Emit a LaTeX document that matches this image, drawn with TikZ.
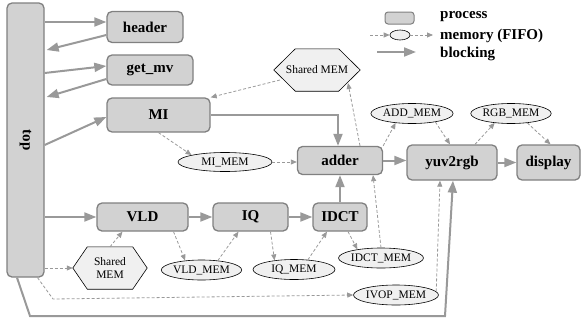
\documentclass[tikz,border=0pt]{standalone}
\usepackage{fontspec}
\setmainfont{Liberation Serif}
\usepackage{tikz}
\usetikzlibrary{arrows.meta,shapes.geometric,backgrounds}
\tikzset{
  proc/.style={draw=gray, fill=gray!35, rounded corners=5pt, line width=1.3pt, inner sep=0pt,
    font=\fontsize{15}{15}\selectfont\bfseries},
  fifo/.style={draw, ellipse, fill=gray!12, line width=0.6pt, inner sep=0pt,
    font=\fontsize{11.5}{11.5}\selectfont},
  shmem/.style={inner sep=0pt, font=\fontsize{11.5}{12.5}\selectfont, align=center},
  hexa/.style={draw, fill=gray!12, line width=0.6pt},
  block/.style={draw=gray!80, line width=2pt, -{Triangle[length=12pt,width=9pt]}},
  mem/.style={draw=gray!80, line width=0.8pt, dash pattern=on 3pt off 2pt, -{Triangle[length=6pt,width=5pt]}},
  legtext/.style={anchor=west, inner sep=0pt, font=\fontsize{15}{15}\selectfont\bfseries}
}
% hexagon round a node: \hexround{node}{slant}
\newcommand{\hexround}[2]{%
  \draw[hexa] ([xshift=#2]#1.north west) -- ([xshift=-#2]#1.north east) -- (#1.east)
     -- ([xshift=-#2]#1.south east) -- ([xshift=#2]#1.south west) -- (#1.west) -- cycle;}
\begin{document}
\begin{tikzpicture}[x=1pt,y=-1pt]
   \useasboundingbox (0,0) rectangle (585,324);

   % processes
   \node[proc, minimum width=37pt, minimum height=274pt] (top) at (25.5,140) {};
   \node[rotate=-90, font=\fontsize{15}{15}\selectfont\bfseries] (toplabel) at (top.center) {top};
   \node[proc, minimum width=76pt, minimum height=31pt] (header) at (145,27) {header};
   \node[proc, minimum width=86pt, minimum height=30pt] (getmv) at (150,70) {get\_mv};
   \node[proc, minimum width=103pt, minimum height=34pt] (mi) at (158.5,115) {MI};
   \node[proc, minimum width=85pt, minimum height=28pt] (adder) at (340,160.5) {adder};
   \node[proc, minimum width=90pt, minimum height=35pt] (yuv) at (452,162.5) {yuv2rgb};
   \node[proc, minimum width=63pt, minimum height=35pt] (display) at (548.5,162.5) {display};
   \node[proc, minimum width=91pt, minimum height=28pt] (vld) at (142.5,217) {VLD};
   \node[proc, minimum width=75pt, minimum height=28pt] (iq) at (250.5,217) {IQ};
   \node[proc, minimum width=54pt, minimum height=28pt] (idct) at (340,217) {IDCT};

   % memories
   \node[shmem, minimum width=86pt, minimum height=42pt] (shmemA) at (317,70) {Shared MEM};
   \node[shmem, minimum width=74pt, minimum height=42pt] (shmemB) at (110,268) {Shared\\MEM};
   \begin{scope}[on background layer]
     \hexround{shmemA}{21.5pt}
     \hexround{shmemB}{14.5pt}
   \end{scope}
   \node[fifo, minimum width=94pt, minimum height=19pt] (mimem) at (225,162) {MI\_MEM};
   \node[fifo, minimum width=78pt, minimum height=20pt] (addmem) at (412,113.5) {ADD\_MEM};
   \node[fifo, minimum width=78pt, minimum height=20pt] (rgbmem) at (511,113.5) {RGB\_MEM};
   \node[fifo, minimum width=77pt, minimum height=20pt] (vldmem) at (201.5,270) {VLD\_MEM};
   \node[fifo, minimum width=82pt, minimum height=20pt] (iqmem) at (294,269.5) {IQ\_MEM};
   \node[fifo, minimum width=78pt, minimum height=20pt] (idctmem) at (381,258) {IDCT\_MEM};
   \node[fifo, minimum width=82pt, minimum height=20pt] (ivopmem) at (396,295) {IVOP\_MEM};

   % legend
   \node[proc, rounded corners=3pt, line width=1pt, minimum width=29pt, minimum height=12pt] (legproc) at (399.5,18) {};
   \node[fifo, minimum width=20pt, minimum height=10pt] (legfifo) at (400,35) {};
   \coordinate (legA) at (370,35);
   \coordinate (legB) at (433,35);
   \coordinate (legC) at (377,52);
   \coordinate (legD) at (416,52);
   \draw[mem] (legA) -- (legfifo.west);
   \draw[mem] (legfifo.east) -- (legB);
   \draw[block] (legC) -- (legD);
   \node[legtext] (legt1) at (440,17) {process};
   \node[legtext] (legt2) at (440,35.5) {memory (FIFO)};
   \node[legtext] (legt3) at (440,54) {blocking};

   % blocking connections
   \draw[block] (top.east |- 0,22) -- (header.west |- 0,22);
   \draw[block] (header.west |- 0,35) -- ([xshift=2pt]top.east |- 0,50);
   \draw[block] (top.east |- 0,73) -- (getmv.west |- 0,66);
   \draw[block] (getmv.west |- 0,79) -- ([xshift=2pt]top.east |- 0,97);
   \draw[block] (top.east |- 0,145) -- (mi.west |- 0,117);
   \draw[block] (mi.east) -| ([xshift=-2pt]adder.north);
   \draw[block] (top.east |- vld.west) -- (vld.west);
   \draw[block] (vld) -- (iq);
   \draw[block] (iq) -- (idct);
   \draw[block] (idct.north) -- (adder.south);
   \draw[block] (adder.east) -- (yuv.west |- adder.east);
   \draw[block] (yuv) -- (display);
   \coordinate (loopA) at (30,316);
   \coordinate (loopB) at (445,316);
   \draw[block] ([xshift=-8.5pt]top.south) -- (loopA) -- (loopB) -- ([xshift=1pt]yuv.south);

   % memory accesses
   \draw[mem] (mi.south) -- (mimem.north west);
   \draw[mem] (mimem.east) -- (adder.west |- mimem.east);
   \draw[mem] ([shift={(-37,10)}]shmemA.center) -- (mi.north east);
   \draw[mem] ([xshift=20pt]adder.north) -- ([shift={(31,13)}]shmemA.center);
   \draw[mem] (adder.north east) -- (addmem.-150);
   \draw[mem] (addmem.-20) -- ([xshift=-2pt]yuv.north);
   \draw[mem] ([xshift=23pt]yuv.north) -- (rgbmem.-150);
   \draw[mem] (rgbmem.-30) -- ([xshift=2pt]display.north);
   \draw[mem] ([xshift=31pt]vld.south) -- (vldmem.150);
   \draw[mem] (vldmem.30) -- ([xshift=-12pt]iq.south);
   \draw[mem] ([xshift=20pt]iq.south) -- (iqmem.155);
   \draw[mem] (iqmem.35) -- ([xshift=-13pt]idct.south);
   \draw[mem] ([xshift=8pt]idct.south) -- (idctmem.160);
   \draw[mem] (idctmem.north) -- ([xshift=33pt]adder.south);
   \draw[mem] (ivopmem.5) -- ([xshift=-12pt]yuv.south);
   \draw[mem] (top.east |- shmemB.west) -- (shmemB.west);
   \draw[mem] (shmemB.north) -- ([xshift=-20pt]vld.south);
   \coordinate (loopC) at (53,299);
%   \coordinate (loopD) at (352,299);
   \draw[mem] ([xshift=12pt]top.south) -- (loopC) -- (ivopmem.west);
\end{tikzpicture}
\end{document}
